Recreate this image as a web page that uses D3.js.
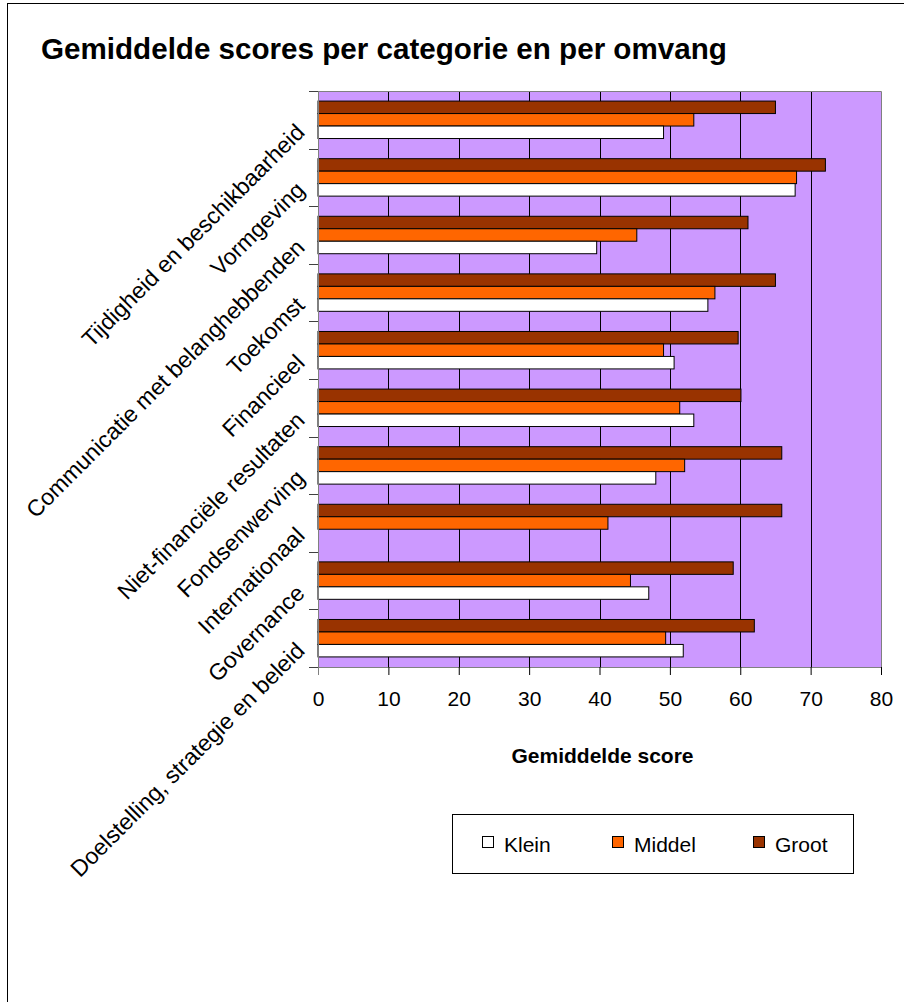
<!DOCTYPE html>
<html>
<head>
<meta charset="utf-8">
<script src="https://cdn.jsdelivr.net/npm/d3@7"></script>
<style>
  html, body { margin: 0; padding: 0; background: #fff; }
  svg { display: block; font-family: "Liberation Sans", Arial, sans-serif; }
</style>
</head>
<body>
<svg id="chart" width="904" height="1002"></svg>
<script>
const categories = [
  "Tijdigheid en beschikbaarheid",
  "Vormgeving",
  "Communicatie met belanghebbenden",
  "Toekomst",
  "Financieel",
  "Niet-financiële resultaten",
  "Fondsenwerving",
  "Internationaal",
  "Governance",
  "Doelstelling, strategie en beleid"
];
const seriesNames = ["Groot", "Middel", "Klein"];
const groot  = [65.0, 72.1, 61.1, 65.0, 59.7, 60.1, 65.9, 65.9, 59.0, 62.0];
const middel = [53.4, 68.0, 45.3, 56.4, 49.1, 51.4, 52.1, 41.2, 44.4, 49.4];
const klein  = [49.1, 67.8, 39.6, 55.4, 50.6, 53.4, 48.0, null, 47.0, 51.9];
const xTicks = [0, 10, 20, 30, 40, 50, 60, 70, 80];
const legendNames = ["Klein", "Middel", "Groot"];
const colors = { Groot: "#993300", Middel: "#FF6600", Klein: "#FFFFFF" };

const seriesValues = { Groot: groot, Middel: middel, Klein: klein };

const svg = d3.select("#chart");
const plot = { left: 318, right: 881, top: 91, bottom: 667 };

// outer frame
svg.append("rect").attr("x", 7.5).attr("y", 3.5).attr("width", 904).attr("height", 1002)
  .attr("fill", "#fff").attr("stroke", "#000").attr("stroke-width", 1);

// title
svg.append("text").attr("x", 41).attr("y", 59)
  .attr("font-size", 29.6).attr("font-weight", "bold").attr("fill", "#000")
  .text("Gemiddelde scores per categorie en per omvang");

const x = d3.scaleLinear().domain([0, 80]).range([plot.left, plot.right]);
const y = d3.scaleBand().domain(categories).range([plot.top, plot.bottom])
  .paddingInner(0.35).paddingOuter(0.175);
const ySub = d3.scaleBand().domain(seriesNames).range([0, y.bandwidth()]);

// plot background
svg.append("rect").attr("x", plot.left).attr("y", plot.top)
  .attr("width", plot.right - plot.left).attr("height", plot.bottom - plot.top)
  .attr("fill", "#CC99FF");

// gridlines
svg.append("g").selectAll("line").data(xTicks.filter(d => d > 0 && d < 80)).join("line")
  .attr("x1", d => Math.round(x(d)) + 0.5).attr("x2", d => Math.round(x(d)) + 0.5)
  .attr("y1", plot.top).attr("y2", plot.bottom)
  .attr("stroke", "#000").attr("stroke-width", 1);

// plot border top/right
svg.append("path")
  .attr("d", `M${plot.left},${plot.top + 0.5}H${plot.right + 0.5}V${plot.bottom}`)
  .attr("fill", "none").attr("stroke", "#808080").attr("stroke-width", 1);

// bars
const groups = svg.append("g").selectAll("g").data(categories).join("g")
  .attr("transform", d => `translate(0,${y(d)})`);
groups.selectAll("rect")
  .data((c, i) => seriesNames.map(s => ({ s, v: seriesValues[s][i] })).filter(d => d.v != null))
  .join("rect")
  .attr("x", x(0))
  .attr("y", d => ySub(d.s))
  .attr("width", d => x(d.v) - x(0))
  .attr("height", ySub.bandwidth())
  .attr("fill", d => colors[d.s])
  .attr("stroke", "#000").attr("stroke-width", 1);

// x axis
const xAxis = d3.axisBottom(x).tickValues(xTicks).tickSize(8).tickPadding(16);
const gx = svg.append("g").attr("transform", `translate(0,${plot.bottom})`).call(xAxis);
gx.select(".domain").attr("stroke", "#808080");
gx.selectAll(".tick line").attr("stroke", "#000");
gx.selectAll(".tick text").attr("font-size", 21).attr("fill", "#000")
  .attr("font-family", "\"Liberation Sans\", Arial, sans-serif");

// y axis line + ticks at band boundaries
const yBounds = d3.range(categories.length + 1).map(i => plot.top + i * (plot.bottom - plot.top) / categories.length);
svg.append("line").attr("x1", plot.left + 0.5).attr("x2", plot.left + 0.5)
  .attr("y1", plot.top).attr("y2", plot.bottom + 8).attr("stroke", "#808080");
svg.append("g").selectAll("line").data(yBounds).join("line")
  .attr("x1", plot.left - 9).attr("x2", plot.left)
  .attr("y1", d => Math.round(d) + 0.5).attr("y2", d => Math.round(d) + 0.5)
  .attr("stroke", "#404040");

// category labels rotated
svg.append("g").selectAll("text").data(categories).join("text")
  .attr("transform", d => `translate(306,${y(d) + y.bandwidth() / 2 + 14}) rotate(-45)`)
  .attr("text-anchor", "end")
  .attr("font-size", 23).attr("fill", "#000")
  .text(d => d);

// axis title
svg.append("text").attr("x", (plot.left + plot.right) / 2 + 3).attr("y", 763)
  .attr("text-anchor", "middle").attr("font-size", 21).attr("font-weight", "bold")
  .text("Gemiddelde score");

// legend
const lg = svg.append("g");
lg.append("rect").attr("x", 452.5).attr("y", 814.5).attr("width", 401).attr("height", 59)
  .attr("fill", "#fff").attr("stroke", "#000").attr("stroke-width", 1);
const legendX = [482, 612, 753];
legendNames.forEach((n, i) => {
  lg.append("rect").attr("x", legendX[i] + 0.5).attr("y", 836.5).attr("width", 11).attr("height", 11)
    .attr("fill", colors[n]).attr("stroke", "#000");
  lg.append("text").attr("x", legendX[i] + 22).attr("y", 852).attr("font-size", 21).text(n);
});
</script>
</body>
</html>
